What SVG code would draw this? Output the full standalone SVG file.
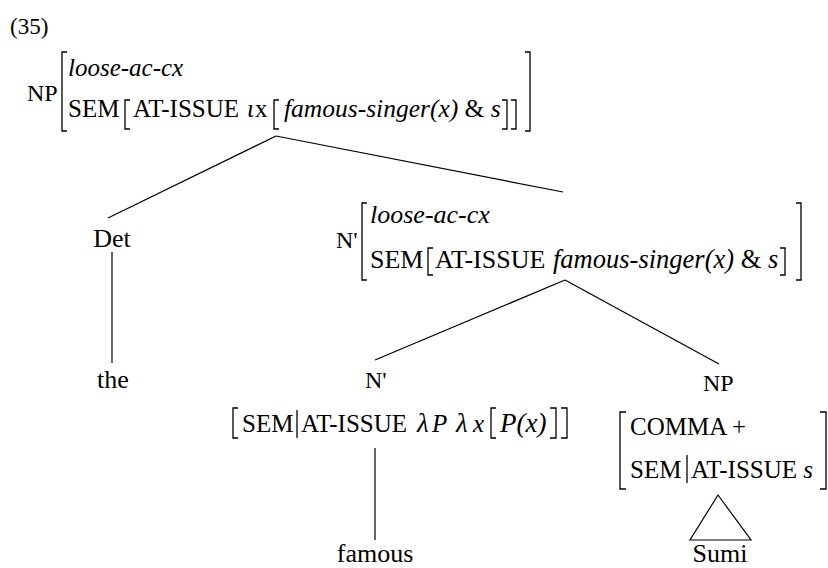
<svg xmlns="http://www.w3.org/2000/svg" width="828" height="568" viewBox="0 0 828 568">
  <style>
    .t { font-family: "Liberation Serif", "Times New Roman", serif; font-size: 25px; fill: #000; }
    .t26 { font-size: 26px; }
    .lbl { font-family: "Liberation Serif", "Times New Roman", serif; font-size: 24px; fill: #000; }
    .word { font-family: "Liberation Serif", "Times New Roman", serif; font-size: 26px; fill: #000; text-anchor: middle; }
    .i { font-style: italic; }
    .br { fill: none; stroke: #000; stroke-width: 1.3; }
    .edge { fill: none; stroke: #000; stroke-width: 1.2; }
  </style>
  <rect width="828" height="568" fill="#fff"/>

  <text class="lbl" x="10" y="34" style="font-size:23px">(35)</text>

  <!-- root NP with its feature structure -->
  <g id="np-root">
    <text class="lbl" x="27" y="101">NP</text>
    <path class="br" d="M67 52 H62 V131 H67"/>
    <text class="t i" x="68" y="76">loose-ac-cx</text>
    <text class="t" x="68" y="117">SEM</text>
    <path class="br" d="M130 100 H125 V129 H130"/>
    <text class="t" x="133" y="117">AT-ISSUE</text>
    <text class="t i" x="247" y="117">ι</text>
    <text class="t" x="255" y="117">x</text>
    <path class="br" d="M279 100 H274 V129 H279"/>
    <text class="t" x="284" y="117" style="font-size:25.5px"><tspan class="i">famous-singer(x)</tspan> &amp; <tspan class="i">s</tspan></text>
    <path class="br" d="M502 100 H507 V129 H502"/>
    <path class="br" d="M511 100 H516 V129 H511"/>
    <path class="br" d="M525 52 H530 V131 H525"/>
  </g>

  <!-- determiner -->
  <g id="det">
    <text class="word" x="112" y="247">Det</text>
  </g>
  <g id="the">
    <text class="word" x="113" y="388">the</text>
  </g>

  <!-- N' with its feature structure -->
  <g id="nbar-top">
    <text class="lbl" x="336" y="248">N'</text>
    <path class="br" d="M367 203 H362 V280 H367"/>
    <text class="t t26 i" x="370" y="223">loose-ac-cx</text>
    <text class="t t26" x="370" y="268">SEM</text>
    <path class="br" d="M433 248 H428 V275 H433"/>
    <text class="t t26" x="435" y="268">AT-ISSUE</text>
    <text class="t" x="553" y="268" style="font-size:26.5px"><tspan class="i">famous-singer(x)</tspan> &amp; <tspan class="i">s</tspan></text>
    <path class="br" d="M780 248 H785 V275 H780"/>
    <path class="br" d="M796 203 H801 V280 H796"/>
  </g>

  <!-- lower N' : the modifier -->
  <g id="nbar-low">
    <text class="lbl" x="365" y="388">N'</text>
    <path class="br" d="M238 408 H233 V438 H238"/>
    <text class="t" x="242" y="432">SEM</text>
    <line class="br" x1="297" y1="410" x2="297" y2="438"/>
    <text class="t" x="301" y="432">AT-ISSUE</text>
    <text class="t i" x="417" y="432" style="font-size:27px">λ</text>
    <text class="t i" x="432" y="432">P</text>
    <text class="t i" x="456" y="432" style="font-size:27px">λ</text>
    <text class="t i" x="473" y="432">x</text>
    <path class="br" d="M496 408 H491 V438 H496"/>
    <text class="t i" x="500" y="432" style="font-size:27px">P(x)</text>
    <path class="br" d="M550 408 H556 V438 H550"/>
    <path class="br" d="M561 408 H567 V438 H561"/>
  </g>
  <g id="famous">
    <text class="word" x="375" y="562">famous</text>
  </g>

  <!-- appositive NP -->
  <g id="np-appos">
    <text class="lbl" x="703" y="391">NP</text>
    <path class="br" d="M626 412 H620 V489 H626"/>
    <text class="t" x="630" y="435">COMMA +</text>
    <text class="t" x="630" y="478">SEM</text>
    <line class="br" x1="687" y1="455" x2="687" y2="483"/>
    <text class="t" x="691" y="478">AT-ISSUE <tspan class="i">s</tspan></text>
    <path class="br" d="M820 412 H826 V489 H820"/>
  </g>
  <g id="sumi">
    <polygon class="edge" points="718,495 690,540 751,540"/>
    <text class="word" x="720" y="562">Sumi</text>
  </g>

  <!-- branches -->
  <g id="edges">
    <line class="edge" x1="276" y1="136" x2="108" y2="218"/>
    <line class="edge" x1="276" y1="136" x2="563" y2="192"/>
    <line class="edge" x1="112" y1="252" x2="112" y2="363"/>
    <line class="edge" x1="565" y1="280" x2="375" y2="360"/>
    <line class="edge" x1="565" y1="280" x2="719" y2="364"/>
    <line class="edge" x1="375" y1="448" x2="375" y2="540"/>
  </g>
</svg>
